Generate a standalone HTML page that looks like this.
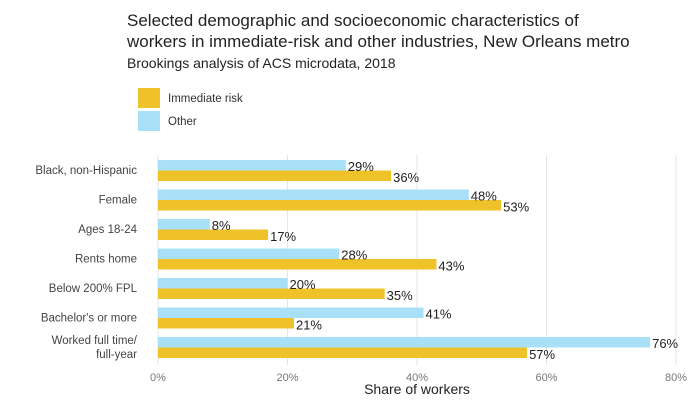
<!DOCTYPE html>
<html><head><meta charset="utf-8"><style>
body{margin:0;background:#fff;font-family:"Liberation Sans",sans-serif;}
svg text{font-family:"Liberation Sans",sans-serif;}
</style></head><body>
<svg width="700" height="408" xmlns="http://www.w3.org/2000/svg">
<text x="127" y="26" font-size="17" fill="#222">Selected demographic and socioeconomic characteristics of</text>
<text x="127" y="47" font-size="17" fill="#222">workers in immediate-risk and other industries, New Orleans metro</text>
<text x="127" y="68" font-size="14" fill="#222">Brookings analysis of ACS microdata, 2018</text>
<rect x="138" y="88" width="22" height="20" fill="#f0c229"/>
<text x="168" y="102" font-size="11.5" fill="#333">Immediate risk</text>
<rect x="138" y="111" width="22" height="20" fill="#a8e0f7"/>
<text x="168" y="125" font-size="11.5" fill="#333">Other</text>
<g id="plot"></g>
<text x="417" y="394" font-size="14" text-anchor="middle" fill="#222">Share of workers</text>
</svg>
<script>
const categories=["Black, non-Hispanic","Female","Ages 18-24","Rents home","Below 200% FPL","Bachelor's or more","Worked full time/|full-year"];
const otherVals=[29,48,8,28,20,41,76];
const riskVals=[36,53,17,43,35,21,57];
const ticks=[0,20,40,60,80];
const NS="http://www.w3.org/2000/svg";
const g=document.getElementById('plot');
const x=v=>158+v*6.475;
const rowY=i=>160+i*29.5;
function mk(t,a,txt){const e=document.createElementNS(NS,t);for(const k in a)e.setAttribute(k,a[k]);if(txt!==undefined)e.textContent=txt;g.appendChild(e);return e;}
ticks.forEach(t=>{
  const l=mk('line',{x1:x(t),x2:x(t),y1:155,y2:365,stroke:'#e6e6e6','stroke-width':1});
  
  
  const tx=mk('text',{x:x(t),y:381,'font-size':11,'text-anchor':'middle',fill:'#777'},t+'%');
  
  
});
categories.forEach((c,i)=>{
  const y=rowY(i);
  const parts=c.split('|');
  parts.forEach((p,j)=>{
    const ty=y+14+(j-(parts.length-1)/2)*14;
    const t=mk('text',{x:137,y:ty,'font-size':11.5,'text-anchor':'end',fill:'#444'},p);
    
    
  });
  const b1=mk('rect',{x:x(0),y:y,width:x(otherVals[i])-x(0),height:10.5,fill:'#a8e0f7'});
  
  
  const b2=mk('rect',{x:x(0),y:y+10.5,width:x(riskVals[i])-x(0),height:10.5,fill:'#f0c229'});
  
  
  const l1=mk('text',{x:x(otherVals[i])+2,y:y+11,'font-size':13,fill:'#222'},otherVals[i]+'%');
  
  
  const l2=mk('text',{x:x(riskVals[i])+2,y:y+22,'font-size':13,fill:'#222'},riskVals[i]+'%');
  
  
});
</script>
</body></html>
